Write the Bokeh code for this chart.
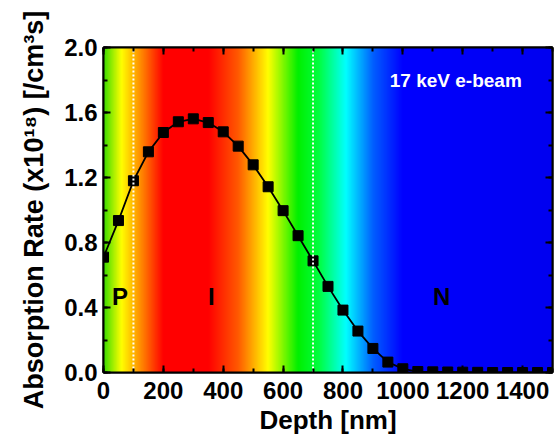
import numpy as np
from bokeh.plotting import figure
from bokeh.models import Range1d, LinearAxis, FixedTicker, NumeralTickFormatter, ColumnDataSource
from bokeh.core.properties import value
from bokeh.embed import file_html
from bokeh.resources import INLINE

# ---- data ----
depth_nm = list(range(0, 1550, 50))
absorption = [0.71, 0.935, 1.18, 1.358, 1.477, 1.543, 1.561, 1.538, 1.481, 1.393,
              1.278, 1.143, 0.996, 0.842, 0.687, 0.530, 0.384, 0.255, 0.148, 0.064,
              0.023, 0.006, 0.004, 0.003, 0.002, 0.001, 0.0, 0.0, 0.0, 0.0, 0.0]
region_labels = ["P", "I", "N"]
region_label_x = [55, 360, 1130]
region_label_y = [0.47, 0.47, 0.47]
boundaries_nm = [100, 700]
beam_label = "17 keV e-beam"
x_major = [0, 200, 400, 600, 800, 1000, 1200, 1400]
x_minor = list(range(0, 1600, 100))
y_major = [0.0, 0.4, 0.8, 1.2, 1.6, 2.0]
y_minor = [round(0.2 * i, 1) for i in range(11)]

# background gradient colour stops (depth -> colour)
grad_stop_x = [0, 60, 130, 200, 350, 450, 550, 650, 720, 810, 900, 1000, 1500]
grad_stop_colors = ["#38dc00", "#ffff00", "#ff8000", "#ff0000", "#ff0000", "#ff5a00",
                    "#ffff00", "#00f000", "#00ff40", "#00ffff", "#0060ff", "#0000ff", "#0000f0"]

FONT = "Liberation Sans"

p = figure(width=557, height=437, output_backend="svg", toolbar_location=None,
           x_range=Range1d(0, 1500), y_range=Range1d(0, 2.0),
           min_border_left=103, min_border_right=5, min_border_top=47, min_border_bottom=64)
p.background_fill_color = "white"
p.border_fill_color = "white"
p.grid.visible = False
p.outline_line_color = "black"
p.outline_line_width = 2

# gradient image
ncol = 1500
xs = np.linspace(0, 1500, ncol)
rgb = np.array([[int(c[i:i + 2], 16) for i in (1, 3, 5)] for c in grad_stop_colors], dtype=float)
img = np.zeros((1, ncol), dtype=np.uint32)
view = img.view(dtype=np.uint8).reshape((1, ncol, 4))
for ch in range(3):
    view[0, :, ch] = np.interp(xs, grad_stop_x, rgb[:, ch]).astype(np.uint8)
view[0, :, 3] = 255
p.image_rgba(image=[img], x=0, y=0, dw=1500, dh=2.0)

src = ColumnDataSource(dict(x=depth_nm, y=absorption))
p.line("x", "y", source=src, line_color="black", line_width=1.8)
p.scatter("x", "y", source=src, marker="square", size=10, fill_color="black", line_color="black")

# boundaries
bsrc = ColumnDataSource(dict(x0=boundaries_nm, y0=[0, 0], x1=boundaries_nm, y1=[2.0, 2.0]))
p.segment("x0", "y0", "x1", "y1", source=bsrc, line_color="white", line_width=2, line_dash="2 2")

lsrc = ColumnDataSource(dict(x=region_label_x, y=region_label_y, t=region_labels))
p.text("x", "y", text="t", source=lsrc, text_font=value(FONT), text_font_style="bold",
       text_font_size="24px", text_color="black", text_align="center", text_baseline="middle")

p.text(x=[1177], y=[1.795], text=[beam_label], text_font=value(FONT), text_font_style="bold",
       text_font_size="19px", text_color="white", text_align="center", text_baseline="middle")

def style_axis(ax, labels=True):
    ax.axis_line_width = 2
    ax.axis_line_color = "black"
    ax.major_tick_in = 7
    ax.major_tick_out = 0
    ax.minor_tick_in = 4
    ax.minor_tick_out = 0
    ax.major_tick_line_width = 2
    ax.minor_tick_line_width = 2
    ax.major_tick_line_color = "black"
    ax.minor_tick_line_color = "black"
    ax.major_label_text_font = FONT
    ax.major_label_text_font_style = "bold"
    ax.major_label_text_font_size = "24px"
    ax.major_label_text_color = "black"
    ax.axis_label_text_font = FONT
    ax.axis_label_text_font_style = "bold"
    ax.axis_label_text_font_size = "26px"
    ax.axis_label_text_color = "black"
    if not labels:
        ax.major_label_text_font_size = "0px"
        ax.major_label_text_alpha = 0

xt = FixedTicker(ticks=x_major, minor_ticks=x_minor)
yt = FixedTicker(ticks=y_major, minor_ticks=y_minor)
p.xaxis.ticker = xt
p.yaxis.ticker = yt
p.yaxis.formatter = NumeralTickFormatter(format="0.0")
p.xaxis.axis_label = "Depth [nm]"
p.yaxis.axis_label = "Absorption Rate (x10¹⁸) [/cm³s]"
style_axis(p.xaxis[0])
style_axis(p.yaxis[0])
p.yaxis.axis_label_text_font_size = "27px"
p.xaxis.major_label_standoff = 9
p.yaxis.major_label_standoff = 6
p.xaxis.axis_label_standoff = 3
p.yaxis.axis_label_standoff = 12

top = LinearAxis(ticker=FixedTicker(ticks=x_major, minor_ticks=x_minor))
style_axis(top, labels=False)
p.add_layout(top, "above")
right = LinearAxis(ticker=FixedTicker(ticks=y_major, minor_ticks=y_minor))
style_axis(right, labels=False)
p.add_layout(right, "right")

open("out.html", "w").write(file_html(p, INLINE))
